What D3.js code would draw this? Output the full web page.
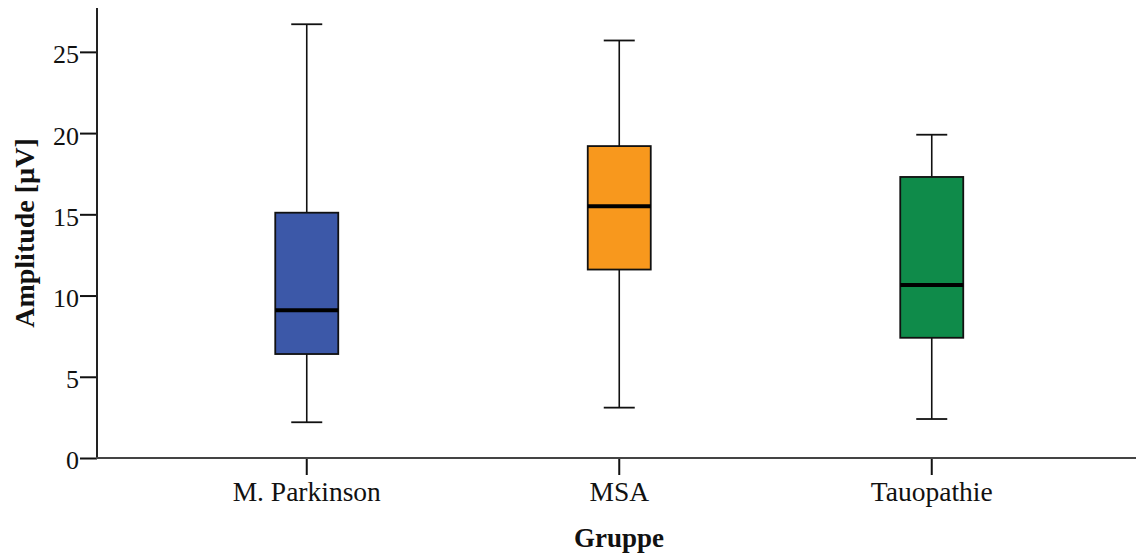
<!DOCTYPE html>
<html>
<head>
<meta charset="utf-8">
<script src="https://cdn.jsdelivr.net/npm/d3@7"></script>
<style>
  html, body { margin: 0; padding: 0; background: #fff; }
  svg { display: block; }
  text { font-family: "Liberation Serif", "Times New Roman", serif; fill: #111; }
</style>
</head>
<body>
<svg id="chart" width="1136" height="558"></svg>
<script>
// Amplitude by group: whisker low, Q1, median, Q3, whisker high
const groups  = ["M. Parkinson", "MSA", "Tauopathie"];
const whiskLo = [2.2, 3.1, 2.4];
const q1      = [6.4, 11.6, 7.4];
const medians = [9.1, 15.5, 10.65];
const q3      = [15.1, 19.2, 17.3];
const whiskHi = [26.7, 25.7, 19.9];
const colors  = ["#3C58A8", "#F8981D", "#0F8B4A"];
const yTicks  = [0, 5, 10, 15, 20, 25];

const svg = d3.select("#chart");
const x0 = 97, x1 = 1136, yBase = 458, yTop = 8;

const y = d3.scaleLinear().domain([0, 27.7]).range([yBase, yTop]);
const x = d3.scaleBand().domain(groups).range([150.5, 1088]).paddingInner(0.8).paddingOuter(0.4);
const boxW = 63, capW = 31;

const data = groups.map((g, i) => ({
  g, lo: whiskLo[i], q1: q1[i], med: medians[i], q3: q3[i], hi: whiskHi[i], c: colors[i]
}));

// y axis
const yAxis = svg.append("g")
  .attr("transform", `translate(${x0},0)`)
  .call(d3.axisLeft(y).tickValues(yTicks).tickSize(17).tickSizeOuter(0).tickPadding(1));
yAxis.select(".domain").remove();
yAxis.selectAll(".tick line").attr("stroke", "#111").attr("stroke-width", 2);
yAxis.selectAll(".tick text").attr("font-size", 26).attr("dy", "0.42em")
  .style("font-family", '"Liberation Serif", serif');
svg.append("line").attr("x1", x0).attr("x2", x0).attr("y1", yTop).attr("y2", yBase)
  .attr("stroke", "#222").attr("stroke-width", 2);

// x axis
const xAxis = svg.append("g")
  .attr("transform", `translate(0,${yBase})`)
  .call(d3.axisBottom(x).tickSize(17).tickSizeOuter(0).tickPadding(6.5));
xAxis.select(".domain").remove();
xAxis.selectAll(".tick line").attr("stroke", "#111").attr("stroke-width", 2);
xAxis.selectAll(".tick text").attr("font-size", 27.5)
  .style("font-family", '"Liberation Serif", serif');
svg.append("line").attr("x1", x0 - 1).attr("x2", x1).attr("y1", yBase).attr("y2", yBase)
  .attr("stroke", "#444").attr("stroke-width", 2);

// boxes
const cx = d => x(d.g) + x.bandwidth() / 2;
const gBox = svg.append("g").selectAll("g").data(data).join("g");

gBox.append("line").attr("x1", cx).attr("x2", cx)
  .attr("y1", d => y(d.hi)).attr("y2", d => y(d.q3))
  .attr("stroke", "#111").attr("stroke-width", 1.6);
gBox.append("line").attr("x1", cx).attr("x2", cx)
  .attr("y1", d => y(d.q1)).attr("y2", d => y(d.lo))
  .attr("stroke", "#111").attr("stroke-width", 1.6);
gBox.append("line").attr("x1", d => cx(d) - capW / 2).attr("x2", d => cx(d) + capW / 2)
  .attr("y1", d => y(d.hi)).attr("y2", d => y(d.hi))
  .attr("stroke", "#111").attr("stroke-width", 1.8);
gBox.append("line").attr("x1", d => cx(d) - capW / 2).attr("x2", d => cx(d) + capW / 2)
  .attr("y1", d => y(d.lo)).attr("y2", d => y(d.lo))
  .attr("stroke", "#111").attr("stroke-width", 1.8);
gBox.append("rect")
  .attr("x", d => cx(d) - boxW / 2).attr("width", boxW)
  .attr("y", d => y(d.q3)).attr("height", d => y(d.q1) - y(d.q3))
  .attr("fill", d => d.c).attr("stroke", "#111").attr("stroke-width", 1.8);
gBox.append("line").attr("x1", d => cx(d) - boxW / 2).attr("x2", d => cx(d) + boxW / 2)
  .attr("y1", d => y(d.med)).attr("y2", d => y(d.med))
  .attr("stroke", "#000").attr("stroke-width", 4);

// axis titles
svg.append("text")
  .attr("transform", "translate(34,233) rotate(-90)")
  .attr("text-anchor", "middle").attr("font-size", 28).attr("font-weight", "bold")
  .text("Amplitude [µV]");
svg.append("text")
  .attr("x", 619).attr("y", 547)
  .attr("text-anchor", "middle").attr("font-size", 27).attr("font-weight", "bold")
  .text("Gruppe");
</script>
</body>
</html>
